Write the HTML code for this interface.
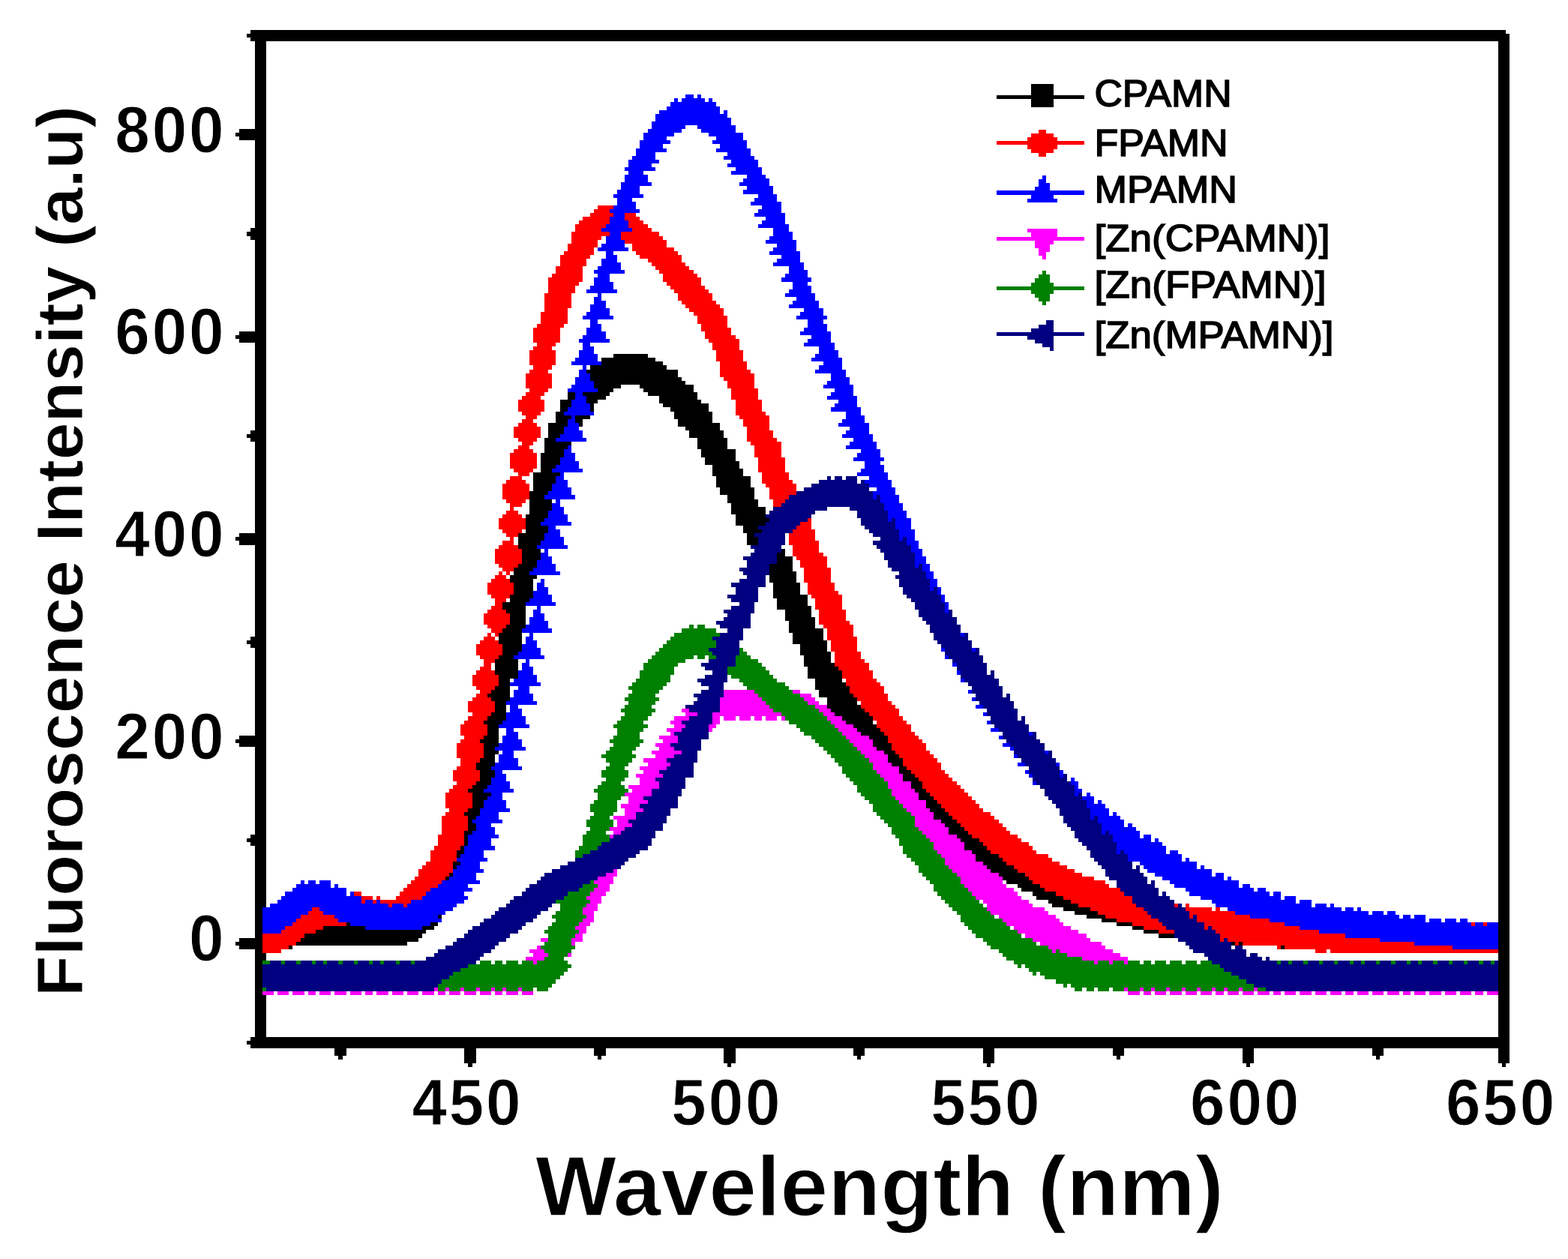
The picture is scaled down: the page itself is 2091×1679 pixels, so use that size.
<!DOCTYPE html>
<html><head><meta charset="utf-8"><title>Fluorescence spectra</title>
<style>html,body{margin:0;padding:0;background:#fff}svg{display:block}</style></head>
<body>
<svg width="2091" height="1679" viewBox="0 0 2091 1679">
<rect width="2091" height="1679" fill="#fff"/>
<g transform="translate(3.8,4.2) scale(5.087)" shape-rendering="crispEdges">
<path fill="#000000" d="M160 92h9v1h-9zM157 93h14v1h-14zM157 94h16v1h-16zM154 95h20v1h-20zM153 96h24v1h-24zM154 97h23v1h-23zM154 98h24v1h-24zM155 99h24v1h-24zM155 100h7v1h-7zM167 100h14v1h-14zM156 101h4v1h-4zM168 101h13v1h-13zM152 102h7v1h-7zM169 102h13v1h-13zM148 102h2v2h-2zM153 103h5v1h-5zM172 103h10v1h-10zM153 104h3v1h-3zM172 104h11v1h-11zM146 104h3v2h-3zM173 105h12v1h-12zM146 106h2v1h-2zM154 105h1v2h-1zM175 106h10v1h-10zM145 107h2v1h-2zM145 108h4v1h-4zM150 108h4v1h-4zM176 107h10v2h-10zM145 109h3v1h-3zM150 109h2v1h-2zM177 109h9v1h-9zM143 110h5v1h-5zM151 110h1v1h-1zM177 110h11v1h-11zM179 111h9v1h-9zM143 111h4v2h-4zM143 113h3v1h-3zM180 112h9v2h-9zM142 114h3v1h-3zM142 115h7v1h-7zM142 116h6v1h-6zM182 114h8v3h-8zM142 117h5v1h-5zM141 118h6v1h-6zM183 117h9v2h-9zM184 119h8v1h-8zM141 119h5v2h-5zM184 120h9v1h-9zM141 121h4v1h-4zM186 121h7v1h-7zM141 122h3v1h-3zM139 123h7v1h-7zM186 122h8v2h-8zM139 124h6v2h-6zM187 124h9v3h-9zM139 126h5v2h-5zM138 128h5v1h-5zM188 127h9v2h-9zM138 129h4v1h-4zM190 129h7v1h-7zM190 130h8v1h-8zM191 131h7v1h-7zM138 130h6v3h-6zM138 133h5v1h-5zM191 132h9v2h-9zM137 134h6v1h-6zM192 134h8v1h-8zM137 135h5v1h-5zM192 135h9v1h-9zM137 136h4v1h-4zM192 136h8v1h-8zM194 137h4v1h-4zM137 137h6v2h-6zM194 138h5v1h-5zM195 139h2v1h-2zM135 139h7v2h-7zM135 141h6v1h-6zM195 140h3v2h-3zM135 142h5v1h-5zM204 143h1v1h-1zM203 144h2v1h-2zM136 143h5v3h-5zM136 146h4v1h-4zM203 145h4v2h-4zM135 147h5v1h-5zM134 148h5v1h-5zM201 147h6v2h-6zM134 149h4v1h-4zM133 150h7v1h-7zM133 151h6v1h-6zM201 149h7v3h-7zM134 152h5v3h-5zM202 152h7v3h-7zM133 155h6v1h-6zM202 155h9v1h-9zM133 156h5v1h-5zM203 156h8v2h-8zM131 157h6v2h-6zM203 158h9v1h-9zM132 159h5v1h-5zM205 159h7v2h-7zM205 161h8v1h-8zM133 160h4v3h-4zM132 163h5v1h-5zM206 162h7v2h-7zM131 164h5v1h-5zM206 164h9v1h-9zM207 165h8v2h-8zM130 165h6v3h-6zM207 167h9v1h-9zM131 168h5v2h-5zM209 168h7v2h-7zM131 170h4v1h-4zM209 170h8v1h-8zM130 171h4v1h-4zM210 171h7v2h-7zM210 173h8v1h-8zM211 174h8v1h-8zM129 172h6v4h-6zM130 176h5v1h-5zM211 175h9v2h-9zM213 177h7v1h-7zM130 177h3v2h-3zM213 178h8v1h-8zM129 179h4v1h-4zM213 179h9v1h-9zM128 180h5v1h-5zM214 180h8v1h-8zM127 181h6v1h-6zM214 181h9v1h-9zM128 182h5v1h-5zM216 182h8v2h-8zM216 184h9v1h-9zM129 183h3v3h-3zM217 185h9v1h-9zM128 186h4v1h-4zM218 186h9v1h-9zM127 187h5v1h-5zM220 187h8v1h-8zM126 188h5v1h-5zM221 188h7v1h-7zM223 189h6v1h-6zM224 190h6v1h-6zM127 189h3v3h-3zM225 191h6v1h-6zM126 192h4v1h-4zM227 192h5v1h-5zM125 193h5v1h-5zM228 193h4v1h-4zM126 194h4v1h-4zM228 194h5v1h-5zM126 195h3v1h-3zM229 195h4v1h-4zM126 196h4v1h-4zM231 196h3v1h-3zM126 197h3v1h-3zM232 197h3v1h-3zM125 198h4v1h-4zM232 198h4v1h-4zM124 199h5v1h-5zM233 199h3v1h-3zM124 200h4v1h-4zM235 200h2v1h-2zM235 201h3v1h-3zM125 201h4v2h-4zM236 202h3v1h-3zM125 203h3v1h-3zM236 203h4v1h-4zM124 204h4v1h-4zM123 205h4v1h-4zM238 204h3v2h-3zM122 206h4v1h-4zM239 206h3v1h-3zM123 207h5v1h-5zM240 207h3v1h-3zM123 208h4v1h-4zM240 208h4v1h-4zM242 209h3v1h-3zM123 209h3v2h-3zM242 210h4v1h-4zM122 211h3v1h-3zM243 211h4v1h-4zM121 212h4v1h-4zM244 212h4v1h-4zM122 213h2v1h-2zM244 213h5v1h-5zM122 214h1v1h-1zM246 214h4v1h-4zM247 215h4v1h-4zM122 215h2v2h-2zM248 216h4v1h-4zM121 217h2v1h-2zM248 217h5v1h-5zM250 218h4v1h-4zM251 219h5v1h-5zM121 218h1v3h-1zM252 220h5v1h-5zM120 221h1v1h-1zM252 221h6v1h-6zM119 222h2v1h-2zM254 222h5v1h-5zM119 223h1v1h-1zM255 223h6v1h-6zM255 224h7v1h-7zM118 225h2v1h-2zM257 225h6v1h-6zM118 226h1v1h-1zM258 226h7v1h-7zM259 227h7v1h-7zM117 228h1v1h-1zM261 228h7v1h-7zM116 229h1v1h-1zM262 229h7v1h-7zM263 230h7v1h-7zM266 231h6v1h-6zM267 232h6v1h-6zM270 233h6v1h-6zM271 234h7v1h-7zM274 235h6v1h-6zM275 236h7v1h-7zM278 237h7v1h-7zM281 238h6v1h-6zM114 239h1v1h-1zM284 239h5v1h-5zM288 240h4v1h-4zM90 241h1v1h-1zM112 241h2v1h-2zM292 241h4v1h-4zM84 242h11v1h-11zM110 242h3v1h-3zM296 242h3v1h-3zM82 243h29v1h-29zM299 243h4v1h-4zM79 244h31v1h-31zM303 244h4v1h-4zM78 245h31v1h-31zM77 246h29v1h-29zM322 246h1v1h-1zM324 246h1v1h-1zM75 247h1v1h-1zM335 247h1v1h-1z"/>
<path fill="#ff0000" d="M156 53h4v1h-4zM155 54h4v1h-4zM154 55h6v1h-6zM163 55h3v1h-3zM152 56h7v1h-7zM163 56h4v1h-4zM151 57h8v1h-8zM164 57h4v1h-4zM150 58h8v1h-8zM164 58h5v1h-5zM150 59h7v1h-7zM165 59h5v1h-5zM149 60h10v1h-10zM162 60h10v1h-10zM149 61h8v1h-8zM162 61h11v1h-11zM149 62h7v1h-7zM163 62h11v1h-11zM148 63h8v1h-8zM165 63h9v1h-9zM148 64h7v1h-7zM165 64h11v1h-11zM147 65h8v1h-8zM166 65h11v1h-11zM146 66h8v1h-8zM167 66h11v1h-11zM169 67h9v1h-9zM146 67h7v2h-7zM170 68h9v1h-9zM171 69h9v1h-9zM145 69h7v2h-7zM172 70h9v1h-9zM144 71h8v1h-8zM173 71h9v1h-9zM143 72h9v1h-9zM173 72h10v1h-10zM143 73h8v1h-8zM174 73h9v1h-9zM175 74h9v1h-9zM143 74h7v2h-7zM176 75h9v1h-9zM177 76h9v2h-9zM178 78h9v1h-9zM142 76h7v4h-7zM179 79h9v1h-9zM142 80h6v1h-6zM180 80h9v1h-9zM181 81h8v1h-8zM141 81h7v3h-7zM182 82h8v2h-8zM140 84h7v1h-7zM183 84h7v1h-7zM183 85h8v1h-8zM184 86h7v1h-7zM184 87h8v1h-8zM139 85h7v4h-7zM185 88h8v1h-8zM140 89h5v1h-5zM139 90h5v1h-5zM186 89h7v2h-7zM187 91h7v3h-7zM138 91h7v4h-7zM139 95h5v1h-5zM188 94h7v2h-7zM138 96h5v1h-5zM188 96h8v1h-8zM188 97h9v1h-9zM189 98h8v1h-8zM137 97h7v4h-7zM190 99h7v2h-7zM138 101h5v1h-5zM137 102h5v1h-5zM136 103h5v1h-5zM191 101h7v3h-7zM135 104h7v3h-7zM192 104h7v3h-7zM136 107h5v1h-5zM192 107h8v1h-8zM137 108h3v1h-3zM193 108h8v1h-8zM136 109h3v1h-3zM135 110h5v1h-5zM194 109h7v2h-7zM195 111h6v1h-6zM134 111h7v3h-7zM195 112h7v2h-7zM135 114h5v1h-5zM195 114h8v1h-8zM136 115h3v1h-3zM196 115h8v1h-8zM135 116h3v1h-3zM134 117h5v1h-5zM197 116h7v3h-7zM133 118h7v4h-7zM134 122h5v1h-5zM198 119h7v4h-7zM135 123h3v1h-3zM133 124h3v1h-3zM199 123h7v2h-7zM132 125h5v1h-5zM199 125h8v1h-8zM200 126h8v1h-8zM201 127h7v2h-7zM131 126h7v4h-7zM201 129h5v1h-5zM132 130h5v1h-5zM202 130h3v1h-3zM133 131h3v1h-3zM202 131h2v1h-2zM133 132h1v1h-1zM132 133h3v1h-3zM131 134h5v1h-5zM211 135h1v1h-1zM209 136h3v1h-3zM130 135h7v3h-7zM208 137h4v1h-4zM131 138h5v1h-5zM207 138h6v1h-6zM132 139h3v1h-3zM133 140h1v1h-1zM206 139h7v2h-7zM131 141h3v1h-3zM206 141h8v1h-8zM130 142h5v1h-5zM207 142h7v2h-7zM207 144h8v1h-8zM208 145h8v1h-8zM129 143h7v4h-7zM130 147h5v1h-5zM209 146h7v2h-7zM131 148h3v1h-3zM130 149h1v1h-1zM132 149h1v1h-1zM129 150h3v1h-3zM128 151h5v1h-5zM210 148h7v4h-7zM211 152h7v2h-7zM127 152h7v3h-7zM211 154h8v1h-8zM128 155h5v1h-5zM212 155h8v1h-8zM129 156h3v1h-3zM129 157h2v1h-2zM128 158h3v1h-3zM213 156h7v3h-7zM127 159h5v1h-5zM214 159h7v3h-7zM126 160h7v3h-7zM214 162h8v1h-8zM127 163h5v1h-5zM215 163h8v1h-8zM128 164h3v1h-3zM127 165h1v1h-1zM129 165h1v1h-1zM216 164h7v2h-7zM126 166h3v1h-3zM216 166h8v1h-8zM125 167h5v1h-5zM217 167h7v3h-7zM124 168h7v3h-7zM125 171h5v1h-5zM218 170h7v2h-7zM126 172h3v1h-3zM218 172h8v1h-8zM126 173h2v1h-2zM218 173h9v1h-9zM125 174h3v1h-3zM219 174h8v1h-8zM124 175h5v1h-5zM220 175h8v2h-8zM221 177h8v1h-8zM123 176h7v3h-7zM221 178h9v1h-9zM124 179h5v1h-5zM125 180h3v1h-3zM222 179h9v2h-9zM124 181h3v1h-3zM223 181h9v1h-9zM123 182h5v1h-5zM224 182h8v1h-8zM225 183h8v1h-8zM225 184h9v1h-9zM122 183h7v3h-7zM226 185h9v1h-9zM123 186h5v1h-5zM227 186h8v1h-8zM122 187h5v1h-5zM228 187h8v1h-8zM121 188h5v1h-5zM229 188h8v1h-8zM229 189h9v1h-9zM230 190h8v1h-8zM120 189h7v3h-7zM231 191h8v1h-8zM121 192h5v1h-5zM232 192h8v1h-8zM120 193h5v1h-5zM232 193h9v1h-9zM233 194h9v2h-9zM234 196h9v1h-9zM119 194h7v4h-7zM235 197h9v1h-9zM120 198h5v1h-5zM236 198h9v1h-9zM120 199h4v1h-4zM236 199h10v1h-10zM119 200h5v1h-5zM237 200h9v1h-9zM238 201h9v1h-9zM239 202h9v1h-9zM118 201h7v3h-7zM240 203h9v1h-9zM119 204h5v1h-5zM241 204h9v1h-9zM118 205h5v1h-5zM241 205h10v1h-10zM117 206h5v1h-5zM242 206h10v1h-10zM243 207h10v1h-10zM244 208h10v1h-10zM245 209h10v1h-10zM116 207h7v4h-7zM246 210h10v1h-10zM117 211h5v1h-5zM247 211h10v1h-10zM116 212h5v1h-5zM248 212h11v1h-11zM249 213h11v1h-11zM250 214h11v1h-11zM251 215h11v1h-11zM115 213h7v4h-7zM252 216h11v1h-11zM115 217h6v1h-6zM253 217h11v1h-11zM254 218h12v1h-12zM256 219h11v1h-11zM114 218h7v3h-7zM257 220h12v1h-12zM113 221h7v1h-7zM258 221h12v1h-12zM259 222h12v1h-12zM261 223h13v1h-13zM112 222h7v3h-7zM262 224h13v1h-13zM111 225h7v1h-7zM263 225h14v1h-14zM110 226h8v1h-8zM265 226h14v1h-14zM109 227h9v1h-9zM266 227h15v1h-15zM109 228h8v1h-8zM268 228h15v1h-15zM108 229h8v1h-8zM269 229h17v1h-17zM107 230h8v1h-8zM270 230h19v1h-19zM106 231h8v1h-8zM272 231h18v1h-18zM105 232h7v1h-7zM273 232h20v1h-20zM92 233h2v1h-2zM104 233h7v1h-7zM276 233h18v1h-18zM94 234h3v1h-3zM98 234h1v1h-1zM103 234h7v1h-7zM278 234h18v1h-18zM94 235h1v1h-1zM97 235h1v1h-1zM99 235h8v1h-8zM280 235h16v1h-16zM101 236h1v1h-1zM105 236h1v1h-1zM282 236h15v1h-15zM307 236h1v1h-1zM310 236h1v1h-1zM81 237h2v1h-2zM285 237h14v1h-14zM310 237h7v1h-7zM318 237h1v1h-1zM80 238h4v1h-4zM287 238h13v1h-13zM311 238h12v1h-12zM78 239h9v1h-9zM289 239h12v1h-12zM311 239h1v1h-1zM313 239h14v1h-14zM77 240h11v1h-11zM292 240h11v1h-11zM313 240h19v1h-19zM76 241h14v1h-14zM296 241h8v1h-8zM315 241h21v1h-21zM385 241h1v1h-1zM388 241h1v1h-1zM74 242h10v1h-10zM299 242h6v1h-6zM315 242h1v1h-1zM317 242h23v1h-23zM73 243h9v1h-9zM303 243h4v1h-4zM318 243h27v1h-27zM68 244h11v1h-11zM319 244h33v1h-33zM68 245h10v1h-10zM319 245h1v1h-1zM321 245h40v1h-40zM68 246h9v1h-9zM323 246h1v1h-1zM325 246h45v1h-45zM68 247h7v1h-7zM334 247h1v1h-1zM336 247h44v1h-44zM68 248h5v1h-5zM344 248h3v1h-3zM348 248h44v1h-44z"/>
<path fill="#0000ff" d="M179 24h2v1h-2zM182 24h1v1h-1zM176 25h1v1h-1zM178 25h6v1h-6zM185 25h1v1h-1zM175 26h12v1h-12zM174 27h14v1h-14zM172 28h16v1h-16zM189 28h1v1h-1zM171 29h19v1h-19zM171 30h20v1h-20zM170 31h21v1h-21zM170 32h9v1h-9zM182 32h10v1h-10zM169 33h9v1h-9zM183 33h9v1h-9zM168 34h8v1h-8zM185 34h9v1h-9zM168 35h6v1h-6zM187 35h7v1h-7zM167 36h8v1h-8zM186 36h9v1h-9zM167 37h6v1h-6zM188 37h7v1h-7zM166 38h8v1h-8zM187 38h9v1h-9zM166 39h5v1h-5zM190 39h6v1h-6zM165 40h6v1h-6zM189 40h8v1h-8zM164 41h8v1h-8zM191 41h7v1h-7zM164 42h6v1h-6zM190 42h8v1h-8zM163 43h8v1h-8zM192 43h7v1h-7zM164 44h4v1h-4zM191 44h8v1h-8zM195 45h5v1h-5zM163 45h6v2h-6zM194 46h7v1h-7zM162 47h8v1h-8zM193 47h8v1h-8zM162 48h5v1h-5zM195 48h7v1h-7zM161 49h6v1h-6zM194 49h8v1h-8zM160 50h8v1h-8zM198 50h5v1h-5zM161 51h4v1h-4zM197 51h6v1h-6zM161 52h5v1h-5zM196 52h8v1h-8zM160 53h6v1h-6zM199 53h5v1h-5zM159 54h8v1h-8zM198 54h6v1h-6zM160 55h3v1h-3zM197 55h8v1h-8zM159 56h4v1h-4zM200 56h5v1h-5zM159 57h5v1h-5zM199 57h6v1h-6zM158 58h6v1h-6zM198 58h8v1h-8zM157 59h8v1h-8zM202 59h4v1h-4zM159 60h3v1h-3zM202 60h5v1h-5zM158 61h4v1h-4zM201 61h6v1h-6zM158 62h5v1h-5zM200 62h8v1h-8zM157 63h6v1h-6zM203 63h5v1h-5zM156 64h8v1h-8zM202 64h6v1h-6zM158 65h2v1h-2zM201 65h8v1h-8zM158 66h3v1h-3zM204 66h5v1h-5zM157 67h4v1h-4zM203 67h6v1h-6zM157 68h5v1h-5zM202 68h8v1h-8zM156 69h6v1h-6zM206 69h4v1h-4zM155 70h8v1h-8zM206 70h5v1h-5zM156 71h3v1h-3zM205 71h6v1h-6zM155 72h4v1h-4zM204 72h8v1h-8zM155 73h5v1h-5zM207 73h4v1h-4zM154 74h6v1h-6zM207 74h5v1h-5zM153 75h8v1h-8zM206 75h6v1h-6zM156 76h1v1h-1zM205 76h8v1h-8zM155 77h2v1h-2zM208 77h5v1h-5zM155 78h3v1h-3zM207 78h7v1h-7zM154 79h4v1h-4zM206 79h8v1h-8zM154 80h5v1h-5zM210 80h5v1h-5zM153 81h6v1h-6zM209 81h6v1h-6zM152 82h8v1h-8zM208 82h8v1h-8zM154 83h2v1h-2zM211 83h4v1h-4zM154 84h3v1h-3zM211 84h5v1h-5zM153 85h4v1h-4zM210 85h6v1h-6zM153 86h5v1h-5zM209 86h8v1h-8zM152 87h6v1h-6zM212 87h5v1h-5zM151 88h8v1h-8zM211 88h6v1h-6zM152 89h2v1h-2zM210 89h8v1h-8zM152 90h3v1h-3zM214 90h4v1h-4zM151 91h4v1h-4zM214 91h5v1h-5zM151 92h5v1h-5zM213 92h6v1h-6zM150 93h6v1h-6zM212 93h8v1h-8zM149 94h8v1h-8zM215 94h5v1h-5zM152 95h1v1h-1zM214 95h6v1h-6zM151 96h2v1h-2zM213 96h8v1h-8zM151 97h3v1h-3zM217 97h4v1h-4zM150 98h4v1h-4zM217 98h5v1h-5zM150 99h5v1h-5zM216 99h6v1h-6zM149 100h6v1h-6zM215 100h8v1h-8zM148 101h8v1h-8zM218 101h5v1h-5zM150 102h2v1h-2zM217 102h6v1h-6zM150 103h3v1h-3zM216 103h8v1h-8zM149 104h4v1h-4zM219 104h5v1h-5zM149 105h5v1h-5zM218 105h6v1h-6zM148 106h6v1h-6zM217 106h8v1h-8zM147 107h8v1h-8zM221 107h4v1h-4zM149 108h1v1h-1zM221 108h5v1h-5zM148 109h2v1h-2zM220 109h6v1h-6zM148 110h3v1h-3zM219 110h8v1h-8zM147 111h4v1h-4zM222 111h5v1h-5zM147 112h5v1h-5zM221 112h6v1h-6zM146 113h6v1h-6zM220 113h8v1h-8zM145 114h8v1h-8zM223 114h5v1h-5zM222 115h7v1h-7zM148 116h1v1h-1zM221 116h8v1h-8zM147 117h2v1h-2zM225 117h5v1h-5zM147 118h3v1h-3zM224 118h6v1h-6zM146 119h4v1h-4zM223 119h8v1h-8zM146 120h5v1h-5zM226 120h4v1h-4zM145 121h6v1h-6zM226 121h5v1h-5zM144 122h8v1h-8zM225 122h6v1h-6zM146 123h1v1h-1zM224 123h8v1h-8zM145 124h2v1h-2zM227 124h5v1h-5zM145 125h3v1h-3zM226 125h7v1h-7zM144 126h4v1h-4zM227 126h6v1h-6zM144 127h5v1h-5zM229 127h5v1h-5zM143 128h6v1h-6zM228 128h6v1h-6zM142 129h8v1h-8zM228 129h1v1h-1zM145 130h1v1h-1zM230 129h5v2h-5zM144 131h2v1h-2zM144 132h3v1h-3zM231 131h5v2h-5zM143 133h4v1h-4zM143 134h5v1h-5zM232 133h5v2h-5zM142 135h6v1h-6zM232 135h1v1h-1zM141 136h8v1h-8zM143 137h2v1h-2zM234 135h4v3h-4zM143 138h3v1h-3zM142 139h4v1h-4zM235 138h4v2h-4zM142 140h5v1h-5zM235 140h1v1h-1zM237 140h2v1h-2zM141 141h6v1h-6zM237 141h3v1h-3zM140 142h8v1h-8zM238 142h2v1h-2zM142 143h1v1h-1zM238 143h3v1h-3zM141 144h2v1h-2zM239 144h2v1h-2zM141 145h3v1h-3zM140 146h4v1h-4zM239 145h3v2h-3zM140 147h5v1h-5zM239 147h1v1h-1zM139 148h6v1h-6zM241 147h2v2h-2zM138 149h8v1h-8zM242 149h2v2h-2zM141 151h1v1h-1zM140 152h2v1h-2zM243 151h2v2h-2zM140 153h3v1h-3zM243 153h1v1h-1zM139 154h4v1h-4zM245 153h1v2h-1zM139 155h5v1h-5zM138 156h6v1h-6zM246 155h1v2h-1zM137 157h8v1h-8zM140 158h1v1h-1zM139 159h2v1h-2zM247 157h1v3h-1zM139 160h3v1h-3zM138 161h4v1h-4zM138 162h5v1h-5zM137 163h6v1h-6zM136 164h8v1h-8zM138 165h1v1h-1zM251 165h1v1h-1zM137 166h2v1h-2zM137 167h3v1h-3zM136 168h4v1h-4zM136 169h5v1h-5zM246 169h1v1h-1zM254 169h1v1h-1zM135 170h6v1h-6zM134 171h8v1h-8zM247 171h1v1h-1zM137 172h1v1h-1zM136 173h2v1h-2zM249 173h1v1h-1zM136 174h3v1h-3zM135 175h4v1h-4zM250 175h1v1h-1zM135 176h5v1h-5zM134 177h6v1h-6zM251 177h1v1h-1zM133 178h8v1h-8zM135 179h3v1h-3zM134 180h4v1h-4zM253 180h1v1h-1zM134 181h5v1h-5zM133 182h6v1h-6zM254 182h1v1h-1zM132 183h8v1h-8zM133 184h2v1h-2zM255 184h2v1h-2zM133 185h3v1h-3zM132 186h4v1h-4zM257 186h1v1h-1zM132 187h5v1h-5zM131 188h6v1h-6zM258 188h1v1h-1zM130 189h8v1h-8zM132 190h2v1h-2zM259 190h2v1h-2zM132 191h3v1h-3zM269 191h1v1h-1zM131 192h4v1h-4zM261 192h1v1h-1zM131 193h5v1h-5zM130 194h6v1h-6zM262 194h2v1h-2zM129 195h8v1h-8zM264 195h1v1h-1zM131 196h3v1h-3zM273 196h1v1h-1zM130 197h4v1h-4zM265 197h1v1h-1zM130 198h5v1h-5zM129 199h6v1h-6zM266 199h2v1h-2zM276 199h1v1h-1zM128 200h8v1h-8zM129 201h2v1h-2zM268 201h1v1h-1zM129 202h3v1h-3zM269 202h1v1h-1zM277 201h1v2h-1zM128 203h4v1h-4zM280 203h1v1h-1zM128 204h5v1h-5zM270 204h1v1h-1zM280 204h2v1h-2zM127 205h6v1h-6zM281 205h1v1h-1zM126 206h8v1h-8zM281 206h2v1h-2zM128 207h3v1h-3zM281 207h1v1h-1zM284 207h1v1h-1zM127 208h4v1h-4zM283 208h3v1h-3zM284 209h2v1h-2zM287 209h1v1h-1zM126 209h6v2h-6zM284 210h5v1h-5zM125 211h8v1h-8zM125 212h5v1h-5zM285 211h5v2h-5zM291 212h1v1h-1zM124 213h6v1h-6zM285 213h1v1h-1zM287 213h6v1h-6zM123 214h8v1h-8zM287 214h7v1h-7zM124 215h4v1h-4zM288 215h6v1h-6zM295 215h1v1h-1zM124 216h5v1h-5zM288 216h9v1h-9zM123 217h6v1h-6zM288 217h1v1h-1zM290 217h8v1h-8zM122 218h8v1h-8zM291 218h7v1h-7zM299 218h2v1h-2zM291 219h10v1h-10zM302 219h1v1h-1zM122 219h6v2h-6zM292 220h12v1h-12zM121 221h8v1h-8zM292 221h13v1h-13zM121 222h5v1h-5zM292 222h1v1h-1zM294 222h11v1h-11zM306 222h2v1h-2zM120 223h6v1h-6zM119 224h8v1h-8zM295 223h14v2h-14zM310 224h1v1h-1zM120 225h5v1h-5zM298 225h15v1h-15zM119 226h6v1h-6zM299 226h14v1h-14zM314 226h1v1h-1zM118 227h8v1h-8zM300 227h17v1h-17zM118 228h6v1h-6zM302 228h15v1h-15zM318 228h2v1h-2zM117 229h7v1h-7zM304 229h16v1h-16zM321 229h1v1h-1zM78 230h1v1h-1zM80 230h2v1h-2zM83 230h3v1h-3zM115 230h10v1h-10zM306 230h18v1h-18zM77 231h9v1h-9zM87 231h1v1h-1zM114 231h8v1h-8zM307 231h17v1h-17zM325 231h2v1h-2zM76 232h14v1h-14zM112 232h11v1h-11zM310 232h18v1h-18zM329 232h2v1h-2zM74 233h16v1h-16zM91 233h1v1h-1zM111 233h10v1h-10zM311 233h21v1h-21zM333 233h2v1h-2zM73 234h21v1h-21zM110 234h12v1h-12zM314 234h21v1h-21zM336 234h3v1h-3zM72 235h22v1h-22zM95 235h2v1h-2zM98 235h1v1h-1zM107 235h14v1h-14zM317 235h22v1h-22zM340 235h3v1h-3zM70 236h31v1h-31zM102 236h3v1h-3zM106 236h13v1h-13zM318 236h25v1h-25zM344 236h3v1h-3zM348 236h1v1h-1zM68 237h13v1h-13zM83 237h35v1h-35zM321 237h30v1h-30zM352 237h2v1h-2zM355 237h1v1h-1zM68 238h12v1h-12zM84 238h32v1h-32zM323 238h35v1h-35zM359 238h3v1h-3zM363 238h2v1h-2zM68 239h10v1h-10zM87 239h27v1h-27zM327 239h39v1h-39zM367 239h2v1h-2zM370 239h3v1h-3zM68 240h9v1h-9zM88 240h27v1h-27zM332 240h41v1h-41zM374 240h3v1h-3zM378 240h3v1h-3zM382 240h2v1h-2zM68 241h8v1h-8zM91 241h21v1h-21zM336 241h49v1h-49zM386 241h2v1h-2zM389 241h3v1h-3zM68 242h6v1h-6zM95 242h15v1h-15zM340 242h52v1h-52zM68 243h5v1h-5zM345 243h47v1h-47zM352 244h40v1h-40zM361 245h31v1h-31zM370 246h22v1h-22zM380 247h12v1h-12z"/>
<path fill="#ff00ff" d="M189 180h8v1h-8zM207 180h2v1h-2zM189 181h9v1h-9zM209 181h3v1h-3zM188 182h11v1h-11zM210 182h3v1h-3zM188 183h12v1h-12zM211 183h3v1h-3zM188 184h13v1h-13zM213 184h3v1h-3zM178 185h2v1h-2zM188 185h14v1h-14zM214 185h3v1h-3zM179 186h3v1h-3zM186 186h18v1h-18zM215 186h3v1h-3zM176 187h4v1h-4zM189 187h3v1h-3zM193 187h3v1h-3zM197 187h2v1h-2zM200 187h3v1h-3zM204 187h1v1h-1zM216 187h4v1h-4zM175 188h3v1h-3zM186 187h2v2h-2zM217 188h4v1h-4zM176 189h3v1h-3zM185 189h2v1h-2zM218 189h5v1h-5zM174 190h4v1h-4zM185 190h1v1h-1zM219 190h5v1h-5zM175 191h1v1h-1zM220 191h5v1h-5zM172 192h5v1h-5zM221 192h6v1h-6zM173 193h4v1h-4zM222 193h6v1h-6zM171 194h4v1h-4zM223 194h5v1h-5zM172 195h4v1h-4zM224 195h5v1h-5zM170 196h8v1h-8zM225 196h6v1h-6zM171 197h5v1h-5zM226 197h6v1h-6zM168 198h6v1h-6zM227 198h5v1h-5zM169 199h6v1h-6zM228 199h5v1h-5zM167 200h7v1h-7zM228 200h7v1h-7zM168 201h4v1h-4zM229 201h6v1h-6zM166 202h7v1h-7zM230 202h6v1h-6zM167 203h4v1h-4zM231 203h5v1h-5zM167 204h5v1h-5zM164 205h8v1h-8zM232 204h6v2h-6zM165 206h5v1h-5zM233 206h6v1h-6zM163 207h7v1h-7zM233 207h7v1h-7zM164 208h4v1h-4zM234 208h6v1h-6zM164 209h5v1h-5zM235 209h7v1h-7zM162 210h5v1h-5zM236 210h6v1h-6zM163 211h5v1h-5zM237 211h6v1h-6zM163 212h3v1h-3zM238 212h6v1h-6zM160 213h6v1h-6zM239 213h5v1h-5zM161 214h3v1h-3zM239 214h7v1h-7zM161 215h4v1h-4zM239 215h8v1h-8zM159 216h4v1h-4zM240 216h8v1h-8zM160 217h2v1h-2zM241 217h7v1h-7zM159 218h1v1h-1zM242 218h8v1h-8zM243 219h8v1h-8zM244 220h8v2h-8zM245 222h9v1h-9zM246 223h9v1h-9zM247 224h8v1h-8zM247 225h10v1h-10zM248 226h10v1h-10zM160 227h1v1h-1zM249 227h10v1h-10zM158 228h3v1h-3zM250 228h11v1h-11zM156 229h4v1h-4zM155 230h5v1h-5zM251 229h11v2h-11zM156 231h3v1h-3zM252 231h11v1h-11zM155 232h4v1h-4zM253 232h12v1h-12zM154 233h4v1h-4zM254 233h12v1h-12zM153 234h4v1h-4zM255 234h12v1h-12zM154 235h3v1h-3zM257 235h12v1h-12zM153 236h3v1h-3zM258 236h12v1h-12zM152 237h4v1h-4zM258 237h15v1h-15zM152 238h3v1h-3zM259 238h15v1h-15zM153 239h2v1h-2zM261 239h15v1h-15zM152 240h3v1h-3zM262 240h15v1h-15zM151 241h3v1h-3zM263 241h15v1h-15zM150 242h3v1h-3zM265 242h15v1h-15zM151 243h2v1h-2zM266 243h16v1h-16zM150 244h2v1h-2zM268 244h16v1h-16zM141 245h2v1h-2zM149 245h3v1h-3zM270 245h15v1h-15zM149 246h1v1h-1zM272 246h16v1h-16zM140 247h1v1h-1zM274 247h15v1h-15zM138 248h4v1h-4zM275 248h1v1h-1zM277 248h14v1h-14zM139 249h4v1h-4zM148 249h1v1h-1zM279 249h14v1h-14zM137 250h5v1h-5zM283 250h12v1h-12zM139 251h1v1h-1zM286 251h1v1h-1zM290 251h1v1h-1zM294 251h1v1h-1zM113 258h1v1h-1zM116 258h1v1h-1zM120 258h1v1h-1zM124 258h1v1h-1zM128 258h1v1h-1zM131 258h1v1h-1zM135 258h1v1h-1zM294 258h1v1h-1zM298 258h1v1h-1zM301 258h1v1h-1zM305 258h1v1h-1zM309 258h1v1h-1zM313 258h1v1h-1zM317 258h1v1h-1zM320 258h1v1h-1zM324 258h1v1h-1zM328 258h1v1h-1zM68 259h3v1h-3zM72 259h3v1h-3zM76 259h3v1h-3zM80 259h2v1h-2zM83 259h3v1h-3zM87 259h3v1h-3zM91 259h3v1h-3zM95 259h2v1h-2zM98 259h3v1h-3zM102 259h3v1h-3zM106 259h3v1h-3zM110 259h3v1h-3zM114 259h2v1h-2zM117 259h3v1h-3zM121 259h3v1h-3zM125 259h3v1h-3zM129 259h2v1h-2zM132 259h3v1h-3zM136 259h3v1h-3zM295 259h3v1h-3zM299 259h2v1h-2zM302 259h3v1h-3zM306 259h3v1h-3zM310 259h3v1h-3zM314 259h3v1h-3zM318 259h2v1h-2zM321 259h3v1h-3zM325 259h3v1h-3zM329 259h3v1h-3zM333 259h2v1h-2zM336 259h3v1h-3zM340 259h3v1h-3zM344 259h3v1h-3zM348 259h3v1h-3zM352 259h2v1h-2zM355 259h3v1h-3zM359 259h3v1h-3zM363 259h3v1h-3zM367 259h2v1h-2zM370 259h3v1h-3zM374 259h3v1h-3zM378 259h3v1h-3zM382 259h3v1h-3zM386 259h2v1h-2zM389 259h3v1h-3z"/>
<path fill="#008000" d="M180 163h1v1h-1zM182 163h2v1h-2zM178 164h9v1h-9zM176 165h12v1h-12zM175 166h11v1h-11zM174 167h13v1h-13zM173 168h14v1h-14zM172 169h13v1h-13zM193 169h1v1h-1zM171 170h15v1h-15zM193 170h2v1h-2zM170 171h11v1h-11zM182 171h2v1h-2zM185 171h2v1h-2zM192 171h4v1h-4zM169 172h10v1h-10zM192 172h6v1h-6zM168 173h9v1h-9zM192 173h7v1h-7zM168 174h8v1h-8zM190 174h10v1h-10zM167 175h9v1h-9zM190 175h11v1h-11zM167 176h8v1h-8zM191 176h11v1h-11zM166 177h9v1h-9zM193 177h10v1h-10zM165 178h9v1h-9zM194 178h11v1h-11zM164 179h9v1h-9zM195 179h11v1h-11zM165 180h7v1h-7zM197 180h10v1h-10zM164 181h7v1h-7zM198 181h11v1h-11zM163 182h9v1h-9zM199 182h11v1h-11zM164 183h7v1h-7zM200 183h11v1h-11zM163 184h7v1h-7zM201 184h12v1h-12zM162 185h9v1h-9zM202 185h12v1h-12zM163 186h7v1h-7zM204 186h11v1h-11zM162 187h7v1h-7zM205 187h11v1h-11zM161 188h7v1h-7zM206 188h11v1h-11zM160 189h9v1h-9zM208 189h10v1h-10zM161 190h7v1h-7zM209 190h10v1h-10zM161 191h6v1h-6zM210 191h10v1h-10zM160 192h7v1h-7zM212 192h9v1h-9zM159 193h9v1h-9zM213 193h9v1h-9zM160 194h7v1h-7zM214 194h9v1h-9zM159 195h7v1h-7zM215 195h9v1h-9zM158 196h7v1h-7zM216 196h9v1h-9zM157 197h9v1h-9zM217 197h9v1h-9zM158 198h7v1h-7zM218 198h9v1h-9zM159 199h5v1h-5zM219 199h9v1h-9zM158 200h5v1h-5zM220 200h8v1h-8zM220 201h9v1h-9zM157 201h7v2h-7zM221 202h9v1h-9zM158 203h5v1h-5zM222 203h9v1h-9zM157 204h5v1h-5zM223 204h9v1h-9zM156 205h7v1h-7zM224 205h8v1h-8zM155 206h9v1h-9zM224 206h9v1h-9zM156 207h7v1h-7zM225 207h8v1h-8zM156 208h6v1h-6zM226 208h8v1h-8zM155 209h6v1h-6zM227 209h8v1h-8zM228 210h8v1h-8zM154 210h7v2h-7zM228 211h9v1h-9zM155 212h5v1h-5zM229 212h9v1h-9zM154 213h5v1h-5zM230 213h9v1h-9zM231 214h8v1h-8zM153 214h7v2h-7zM232 215h7v1h-7zM154 216h5v1h-5zM233 216h7v1h-7zM153 217h5v1h-5zM233 217h8v1h-8zM234 218h8v1h-8zM152 218h7v2h-7zM235 219h8v1h-8zM152 220h5v1h-5zM235 220h9v1h-9zM151 221h5v1h-5zM236 221h8v1h-8zM150 222h4v1h-4zM236 222h9v1h-9zM150 223h2v1h-2zM237 223h9v1h-9zM238 224h9v1h-9zM239 225h8v1h-8zM240 226h8v1h-8zM240 227h9v1h-9zM241 228h9v1h-9zM242 229h9v1h-9zM154 230h1v1h-1zM243 230h8v1h-8zM152 231h4v1h-4zM244 231h8v1h-8zM151 232h4v1h-4zM244 232h9v1h-9zM148 233h6v1h-6zM245 233h9v1h-9zM147 234h6v1h-6zM246 234h9v1h-9zM145 235h9v1h-9zM247 235h9v1h-9zM146 236h7v1h-7zM248 236h9v1h-9zM146 237h6v1h-6zM249 237h9v1h-9zM145 238h7v1h-7zM250 238h9v1h-9zM144 239h9v1h-9zM251 239h9v1h-9zM145 240h7v1h-7zM251 240h11v1h-11zM144 241h7v1h-7zM252 241h11v1h-11zM143 242h7v1h-7zM253 242h11v1h-11zM142 243h9v1h-9zM254 243h12v1h-12zM143 244h7v1h-7zM255 244h12v1h-12zM143 245h6v1h-6zM257 245h13v1h-13zM142 246h7v1h-7zM258 246h13v1h-13zM141 247h9v1h-9zM259 247h15v1h-15zM142 248h7v1h-7zM261 248h14v1h-14zM276 248h1v1h-1zM143 249h5v1h-5zM262 249h17v1h-17zM142 250h5v1h-5zM263 250h20v1h-20zM68 251h2v1h-2zM73 251h1v1h-1zM77 251h1v1h-1zM81 251h1v1h-1zM84 251h1v1h-1zM88 251h1v1h-1zM92 251h1v1h-1zM96 251h1v1h-1zM99 251h1v1h-1zM103 251h1v1h-1zM107 251h1v1h-1zM125 251h3v1h-3zM129 251h2v1h-2zM132 251h3v1h-3zM136 251h3v1h-3zM140 251h8v1h-8zM265 251h21v1h-21zM287 251h3v1h-3zM291 251h3v1h-3zM295 251h3v1h-3zM299 251h2v1h-2zM302 251h3v1h-3zM306 251h3v1h-3zM310 251h3v1h-3zM314 251h3v1h-3zM334 251h1v1h-1zM337 251h1v1h-1zM341 251h1v1h-1zM345 251h1v1h-1zM349 251h1v1h-1zM353 251h1v1h-1zM356 251h1v1h-1zM360 251h1v1h-1zM364 251h1v1h-1zM368 251h1v1h-1zM371 251h1v1h-1zM375 251h1v1h-1zM379 251h1v1h-1zM383 251h1v1h-1zM387 251h1v1h-1zM390 251h1v1h-1zM122 252h27v1h-27zM266 252h1v1h-1zM268 252h51v1h-51zM120 253h28v1h-28zM269 253h51v1h-51zM118 254h29v1h-29zM270 254h1v1h-1zM272 254h50v1h-50zM117 255h29v1h-29zM273 255h51v1h-51zM115 256h30v1h-30zM276 256h50v1h-50zM114 257h30v1h-30zM278 257h1v1h-1zM280 257h48v1h-48zM68 258h1v1h-1zM114 258h2v1h-2zM117 258h3v1h-3zM121 258h3v1h-3zM125 258h3v1h-3zM129 258h2v1h-2zM132 258h3v1h-3zM136 258h3v1h-3zM140 258h3v1h-3zM281 258h2v1h-2zM284 258h2v1h-2zM287 258h3v1h-3zM291 258h3v1h-3zM295 258h3v1h-3zM299 258h2v1h-2zM302 258h3v1h-3zM306 258h3v1h-3zM310 258h3v1h-3zM314 258h3v1h-3zM318 258h2v1h-2zM321 258h3v1h-3zM325 258h3v1h-3zM329 258h2v1h-2z"/>
<path fill="#000080" d="M216 124h1v1h-1zM218 124h2v1h-2zM221 124h3v1h-3zM214 125h10v1h-10zM225 125h1v1h-1zM212 126h15v1h-15zM210 127h17v1h-17zM208 128h20v1h-20zM206 129h22v1h-22zM229 129h1v1h-1zM205 130h25v1h-25zM204 131h27v1h-27zM202 132h14v1h-14zM222 132h9v1h-9zM201 133h12v1h-12zM200 134h12v1h-12zM224 133h8v2h-8zM201 135h10v1h-10zM225 135h7v1h-7zM233 135h1v1h-1zM200 136h9v1h-9zM225 136h9v1h-9zM198 137h10v1h-10zM226 137h8v1h-8zM199 138h8v1h-8zM227 138h8v1h-8zM197 139h8v1h-8zM228 139h7v1h-7zM230 140h5v1h-5zM236 140h1v1h-1zM198 140h7v2h-7zM228 141h9v1h-9zM196 142h8v1h-8zM229 142h9v1h-9zM197 143h7v1h-7zM230 143h8v1h-8zM196 144h7v1h-7zM194 145h9v1h-9zM231 144h8v2h-8zM195 146h8v1h-8zM195 147h6v1h-6zM232 146h7v2h-7zM240 147h1v1h-1zM193 148h8v1h-8zM233 148h8v1h-8zM194 149h7v1h-7zM235 149h7v1h-7zM195 150h5v1h-5zM234 150h8v1h-8zM193 151h7v1h-7zM191 152h9v1h-9zM235 151h8v2h-8zM236 153h7v1h-7zM244 153h1v1h-1zM192 153h6v2h-6zM236 154h9v1h-9zM190 155h8v1h-8zM237 155h9v1h-9zM191 156h7v1h-7zM238 156h8v1h-8zM193 157h4v1h-4zM191 158h6v1h-6zM239 157h8v2h-8zM189 159h8v1h-8zM240 159h7v1h-7zM248 159h1v1h-1zM190 160h6v1h-6zM240 160h9v1h-9zM189 161h7v1h-7zM241 161h9v1h-9zM187 162h9v1h-9zM242 162h8v1h-8zM188 163h8v1h-8zM190 164h4v1h-4zM243 163h8v2h-8zM188 165h6v1h-6zM244 165h7v1h-7zM252 165h1v1h-1zM186 166h8v1h-8zM244 166h9v1h-9zM245 167h9v1h-9zM187 167h6v2h-6zM246 168h8v1h-8zM185 169h8v1h-8zM247 169h7v1h-7zM255 169h1v1h-1zM186 170h7v1h-7zM247 170h9v1h-9zM187 171h5v1h-5zM248 171h9v1h-9zM185 172h7v1h-7zM249 172h8v1h-8zM183 173h9v1h-9zM184 174h6v1h-6zM250 173h8v2h-8zM186 175h4v1h-4zM251 175h7v1h-7zM259 175h1v1h-1zM184 176h6v1h-6zM251 176h9v1h-9zM182 177h8v1h-8zM252 177h9v1h-9zM183 178h6v1h-6zM253 178h8v1h-8zM185 179h4v1h-4zM183 180h6v1h-6zM254 179h8v2h-8zM181 181h8v1h-8zM255 181h7v1h-7zM263 181h1v1h-1zM182 182h6v1h-6zM255 182h9v1h-9zM181 183h7v1h-7zM256 183h9v1h-9zM179 184h9v1h-9zM257 184h8v1h-8zM180 185h8v1h-8zM182 186h4v1h-4zM258 185h8v2h-8zM180 187h6v1h-6zM259 187h7v1h-7zM267 187h1v1h-1zM178 188h8v1h-8zM259 188h9v1h-9zM179 189h6v1h-6zM260 189h9v1h-9zM178 190h7v1h-7zM261 190h8v1h-8zM176 191h9v1h-9zM262 191h7v1h-7zM270 191h1v1h-1zM177 192h8v1h-8zM262 192h9v1h-9zM177 193h6v1h-6zM263 193h9v1h-9zM175 194h8v1h-8zM264 194h9v1h-9zM176 195h7v1h-7zM178 196h4v1h-4zM265 195h8v2h-8zM274 196h1v1h-1zM176 197h6v1h-6zM266 197h9v1h-9zM174 198h8v1h-8zM267 198h9v1h-9zM175 199h6v1h-6zM268 199h8v1h-8zM174 200h7v1h-7zM172 201h9v1h-9zM269 200h8v2h-8zM173 202h8v1h-8zM270 202h7v1h-7zM278 202h1v1h-1zM171 203h8v1h-8zM270 203h9v1h-9zM271 204h9v1h-9zM172 204h7v2h-7zM272 205h9v1h-9zM170 206h8v2h-8zM273 206h8v2h-8zM282 207h1v1h-1zM168 208h9v1h-9zM274 208h9v1h-9zM169 209h8v1h-8zM275 209h9v1h-9zM167 210h10v1h-10zM276 210h8v1h-8zM168 211h7v1h-7zM166 212h9v1h-9zM277 211h8v2h-8zM166 213h8v1h-8zM278 213h7v1h-7zM286 213h1v1h-1zM164 214h10v1h-10zM278 214h9v1h-9zM165 215h8v1h-8zM279 215h9v1h-9zM163 216h10v1h-10zM280 216h8v1h-8zM162 217h9v1h-9zM281 217h7v1h-7zM289 217h1v1h-1zM160 218h11v1h-11zM281 218h10v1h-10zM159 219h11v1h-11zM282 219h9v1h-9zM157 220h13v1h-13zM283 220h9v1h-9zM156 221h13v1h-13zM284 221h8v1h-8zM154 222h13v1h-13zM285 222h7v1h-7zM293 222h1v1h-1zM152 223h14v1h-14zM285 223h10v1h-10zM150 224h14v1h-14zM286 224h9v1h-9zM148 225h15v1h-15zM287 225h9v1h-9zM146 226h16v1h-16zM288 226h8v1h-8zM297 226h1v1h-1zM144 227h16v1h-16zM289 227h9v1h-9zM142 228h16v1h-16zM289 228h10v1h-10zM141 229h15v1h-15zM290 229h10v1h-10zM140 230h14v1h-14zM292 230h8v1h-8zM301 230h1v1h-1zM138 231h14v1h-14zM292 231h10v1h-10zM137 232h14v1h-14zM293 232h10v1h-10zM136 233h12v1h-12zM294 233h9v1h-9zM304 233h1v1h-1zM134 234h13v1h-13zM296 234h10v1h-10zM133 235h12v1h-12zM296 235h11v1h-11zM132 236h12v1h-12zM297 236h10v1h-10zM308 236h1v1h-1zM130 237h13v1h-13zM299 237h11v1h-11zM129 238h12v1h-12zM300 238h11v1h-11zM128 239h12v1h-12zM301 239h10v1h-10zM312 239h1v1h-1zM126 240h13v1h-13zM303 240h10v1h-10zM125 241h12v1h-12zM304 241h11v1h-11zM123 242h13v1h-13zM305 242h10v1h-10zM316 242h1v1h-1zM122 243h13v1h-13zM307 243h11v1h-11zM121 244h12v1h-12zM307 244h12v1h-12zM119 245h13v1h-13zM308 245h11v1h-11zM320 245h1v1h-1zM118 246h12v1h-12zM310 246h12v1h-12zM116 247h13v1h-13zM311 247h11v1h-11zM323 247h2v1h-2zM114 248h14v1h-14zM312 248h14v1h-14zM113 249h13v1h-13zM315 249h11v1h-11zM327 249h2v1h-2zM111 250h14v1h-14zM316 250h14v1h-14zM331 250h1v1h-1zM70 251h3v1h-3zM74 251h3v1h-3zM78 251h3v1h-3zM82 251h2v1h-2zM85 251h3v1h-3zM89 251h3v1h-3zM93 251h3v1h-3zM97 251h2v1h-2zM100 251h3v1h-3zM104 251h3v1h-3zM108 251h16v1h-16zM317 251h17v1h-17zM335 251h2v1h-2zM338 251h3v1h-3zM342 251h3v1h-3zM346 251h3v1h-3zM350 251h3v1h-3zM354 251h2v1h-2zM357 251h3v1h-3zM361 251h3v1h-3zM365 251h3v1h-3zM369 251h2v1h-2zM372 251h3v1h-3zM376 251h3v1h-3zM380 251h3v1h-3zM384 251h3v1h-3zM388 251h2v1h-2zM391 251h1v1h-1zM68 252h54v1h-54zM319 252h73v1h-73zM68 253h52v1h-52zM320 253h72v1h-72zM68 254h50v1h-50zM322 254h70v1h-70zM68 255h49v1h-49zM324 255h68v1h-68zM68 256h47v1h-47zM326 256h66v1h-66zM68 257h46v1h-46zM328 257h64v1h-64zM69 258h44v1h-44zM331 258h61v1h-61z"/>
<path fill="#000" d="M65 7h329v1h-329zM64 8h331v1h-331zM65 9h330v1h-330zM66 10h3v23h-3zM62 33h7v1h-7zM61 34h8v1h-8zM62 35h7v1h-7zM66 36h3v23h-3zM65 59h4v1h-4zM64 60h5v1h-5zM65 61h4v1h-4zM66 62h3v24h-3zM62 86h7v1h-7zM61 87h8v1h-8zM62 88h7v1h-7zM66 89h3v23h-3zM65 112h4v1h-4zM64 113h5v1h-5zM65 114h4v1h-4zM66 115h3v24h-3zM62 139h7v1h-7zM61 140h8v1h-8zM62 141h7v1h-7zM66 142h3v24h-3zM65 166h4v1h-4zM64 167h5v1h-5zM65 168h4v1h-4zM66 169h3v23h-3zM62 192h7v1h-7zM61 193h8v1h-8zM62 194h7v1h-7zM66 195h3v23h-3zM65 218h4v1h-4zM64 219h5v1h-5zM65 220h4v1h-4zM66 221h3v16h-3zM66 237h2v8h-2zM62 245h6v1h-6zM61 246h7v1h-7zM62 247h6v1h-6zM66 248h2v1h-2zM66 249h3v2h-3zM66 251h2v9h-2zM66 260h3v11h-3zM392 10h3v261h-3zM65 271h330v1h-330zM64 272h331v1h-331zM65 273h330v1h-330zM87 274h3v2h-3zM155 274h3v2h-3zM223 274h3v2h-3zM291 274h3v2h-3zM359 274h3v2h-3zM88 276h1v1h-1zM156 276h1v1h-1zM224 276h1v1h-1zM292 276h1v1h-1zM360 276h1v1h-1zM121 274h3v4h-3zM189 274h3v4h-3zM257 274h3v4h-3zM325 274h3v4h-3zM392 274h3v4h-3zM122 278h1v1h-1zM190 278h1v1h-1zM258 278h1v1h-1zM326 278h1v1h-1zM393 278h1v1h-1z"/>
</g>
<g transform="translate(1.2999999999999998,5.2) scale(5.087)" shape-rendering="crispEdges">
<path fill="#000000" d="M270 21h6v3h-6zM261 24h23v1h-23zM270 25h6v2h-6z"/>
<path fill="#ff0000" d="M272 33h2v1h-2zM270 34h6v1h-6zM269 35h8v1h-8zM261 36h23v1h-23zM269 37h8v1h-8zM270 38h6v1h-6zM272 39h2v1h-2z"/>
<path fill="#0000ff" d="M273 45h1v1h-1zM272 46h2v1h-2zM272 47h3v1h-3zM271 48h4v1h-4zM261 49h23v1h-23zM270 50h6v1h-6zM269 51h8v1h-8z"/>
<path fill="#ff00ff" d="M269 59h8v1h-8zM270 60h7v1h-7zM261 61h23v1h-23zM271 62h5v1h-5zM271 63h4v1h-4zM272 64h3v1h-3zM272 65h2v1h-2zM273 66h1v1h-1z"/>
<path fill="#008000" d="M273 70h1v1h-1zM272 71h3v1h-3zM271 72h4v1h-4zM270 73h6v1h-6zM261 74h23v1h-23zM270 75h6v1h-6zM271 76h4v1h-4zM272 77h3v1h-3zM273 78h1v1h-1z"/>
<path fill="#000080" d="M274 83h2v1h-2zM272 84h4v1h-4zM270 85h6v1h-6zM261 86h23v1h-23zM269 87h7v1h-7zM271 88h5v1h-5zM273 89h3v1h-3zM275 90h1v1h-1z"/>
</g>
<g fill="#000">
<text transform="translate(301.3,202.7) scale(0.95,1)" text-anchor="end" font-family="'Liberation Sans', Arial, sans-serif" font-size="88" font-weight="bold" letter-spacing="3.0" stroke="#fff" stroke-width="1">800</text>
<text transform="translate(301.3,472.3) scale(0.95,1)" text-anchor="end" font-family="'Liberation Sans', Arial, sans-serif" font-size="88" font-weight="bold" letter-spacing="3.0" stroke="#fff" stroke-width="1">600</text>
<text transform="translate(301.3,741.9) scale(0.95,1)" text-anchor="end" font-family="'Liberation Sans', Arial, sans-serif" font-size="88" font-weight="bold" letter-spacing="3.0" stroke="#fff" stroke-width="1">400</text>
<text transform="translate(301.3,1011.5) scale(0.95,1)" text-anchor="end" font-family="'Liberation Sans', Arial, sans-serif" font-size="88" font-weight="bold" letter-spacing="3.0" stroke="#fff" stroke-width="1">200</text>
<text transform="translate(301.3,1281.1) scale(0.95,1)" text-anchor="end" font-family="'Liberation Sans', Arial, sans-serif" font-size="88" font-weight="bold" letter-spacing="3.0" stroke="#fff" stroke-width="1">0</text>
<text transform="translate(623.4,1499.5) scale(0.95,1)" text-anchor="middle" font-family="'Liberation Sans', Arial, sans-serif" font-size="88" font-weight="bold" letter-spacing="3.0" stroke="#fff" stroke-width="1">450</text>
<text transform="translate(969.3,1499.5) scale(0.95,1)" text-anchor="middle" font-family="'Liberation Sans', Arial, sans-serif" font-size="88" font-weight="bold" letter-spacing="3.0" stroke="#fff" stroke-width="1">500</text>
<text transform="translate(1315.2,1499.5) scale(0.95,1)" text-anchor="middle" font-family="'Liberation Sans', Arial, sans-serif" font-size="88" font-weight="bold" letter-spacing="3.0" stroke="#fff" stroke-width="1">550</text>
<text transform="translate(1661.1,1499.5) scale(0.95,1)" text-anchor="middle" font-family="'Liberation Sans', Arial, sans-serif" font-size="88" font-weight="bold" letter-spacing="3.0" stroke="#fff" stroke-width="1">600</text>
<text transform="translate(2002.0,1499.5) scale(0.95,1)" text-anchor="middle" font-family="'Liberation Sans', Arial, sans-serif" font-size="88" font-weight="bold" letter-spacing="3.0" stroke="#fff" stroke-width="1">650</text>
<text x="714" y="1621" font-family="'Liberation Sans', Arial, sans-serif" font-size="114" font-weight="bold" textLength="918" lengthAdjust="spacingAndGlyphs" stroke="#fff" stroke-width="1.5">Wavelength (nm)</text>
<text transform="translate(110,1329) rotate(-90)" font-family="'Liberation Sans', Arial, sans-serif" font-size="87" font-weight="bold" textLength="1188" lengthAdjust="spacingAndGlyphs" stroke="#fff" stroke-width="1">Fluoroscence Intensity (a.u)</text>
<text x="1459.5" y="141.6" font-family="'Liberation Sans', Arial, sans-serif" font-size="50.5" textLength="183" lengthAdjust="spacingAndGlyphs" stroke="#000" stroke-width="1.6">CPAMN</text>
<text x="1459.5" y="208.2" font-family="'Liberation Sans', Arial, sans-serif" font-size="50.5" textLength="178" lengthAdjust="spacingAndGlyphs" stroke="#000" stroke-width="1.6">FPAMN</text>
<text x="1459.5" y="269.6" font-family="'Liberation Sans', Arial, sans-serif" font-size="50.5" textLength="190.5" lengthAdjust="spacingAndGlyphs" stroke="#000" stroke-width="1.6">MPAMN</text>
<text x="1459.5" y="335.4" font-family="'Liberation Sans', Arial, sans-serif" font-size="50.5" textLength="314" lengthAdjust="spacingAndGlyphs" stroke="#000" stroke-width="1.6">[Zn(CPAMN)]</text>
<text x="1459.5" y="396.8" font-family="'Liberation Sans', Arial, sans-serif" font-size="50.5" textLength="309" lengthAdjust="spacingAndGlyphs" stroke="#000" stroke-width="1.6">[Zn(FPAMN)]</text>
<text x="1459.5" y="463.7" font-family="'Liberation Sans', Arial, sans-serif" font-size="50.5" textLength="319" lengthAdjust="spacingAndGlyphs" stroke="#000" stroke-width="1.6">[Zn(MPAMN)]</text>
</g>
</svg>
</body></html>
